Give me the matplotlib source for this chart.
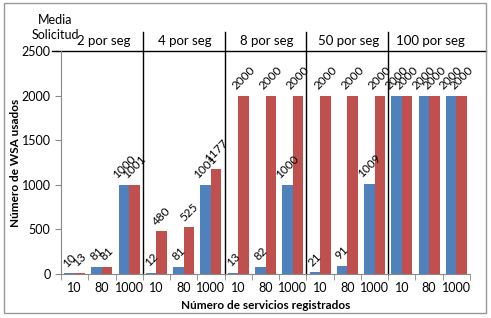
import matplotlib.pyplot as plt
from matplotlib.patches import Rectangle
import numpy as np

plt.rcParams['font.family'] = ['Lato', 'DejaVu Sans']

tick_labels = ["10", "80", "1000"] * 5
groups = ["2 por seg", "4 por seg", "8 por seg", "50 por seg", "100 por seg"]
blue_vals = [10, 81, 1000, 12, 81, 1001, 13, 82, 1000, 21, 91, 1009, 2000, 2000, 2000]
red_vals = [13, 81, 1001, 480, 525, 1177, 2000, 2000, 2000, 2000, 2000, 2000, 2000, 2000, 2000]

blue = "#4F81BD"
red = "#C0504D"

fig = plt.figure(figsize=(4.91, 3.18), dpi=100)
W, H = 491, 318
ax = fig.add_axes([61 / W, 1 - 274 / H, 409 / W, (274 - 51) / H])

x = np.arange(len(tick_labels))
bw = 0.385
b1 = ax.bar(x - bw / 2, blue_vals, bw, color=blue)
b2 = ax.bar(x + bw / 2, red_vals, bw, color=red)

for bars, vals in [(b1, blue_vals), (b2, red_vals)]:
    for b, v in zip(bars, vals):
        ax.annotate(str(v), (b.get_x() + b.get_width() / 2, v), xytext=(0, 3),
                    textcoords="offset points", rotation=45, ha="center", va="bottom",
                    fontsize=8.5, annotation_clip=False)

ax.set_xlim(-0.5, len(x) - 0.5)
ax.set_ylim(0, 2500)
ax.set_yticks(range(0, 2501, 500))
ax.set_xticks(x)
ax.set_xticklabels(tick_labels)
ax.set_xticks(np.arange(-0.5, len(x), 1), minor=True)
ax.tick_params(axis="x", which="major", length=0, labelsize=9, pad=6)
ax.tick_params(axis="x", which="minor", length=4, color="#888888")
ax.tick_params(axis="y", length=4, color="#888888", labelsize=9)

for s in ["top", "right"]:
    ax.spines[s].set_visible(False)
for s in ["left", "bottom"]:
    ax.spines[s].set_color("#888888")

ax.set_ylabel("Número de WSA usados", fontsize=8.5, fontweight="bold")
ax.yaxis.set_label_coords(-0.097, 0.5)
ax.set_xlabel("Número de servicios registrados", fontsize=8.5, fontweight="bold", labelpad=4)

# group separators and header
trans = ax.get_xaxis_transform()
for sep in [2.5, 5.5, 8.5, 11.5]:
    ax.plot([sep, sep], [0, 1.085], color="black", lw=1, transform=trans, clip_on=False)
ax.plot([-0.83, 15.1], [1, 1], color="black", lw=1, transform=trans, clip_on=False)

for i, g in enumerate(groups):
    ax.text(3 * i + 1.05, 1.045, g, transform=trans, ha="center", va="center", fontsize=9.5)
ax.text(-0.72, 1.105, "Media\nSolicitud", transform=trans, ha="center", va="center",
        fontsize=9, linespacing=1.3)

fig.add_artist(Rectangle((4 / W, 1 - 313 / H), 482 / W, 310 / H, transform=fig.transFigure,
                         fill=False, edgecolor="#999999", lw=1))

fig.savefig("out.png", dpi=100)
